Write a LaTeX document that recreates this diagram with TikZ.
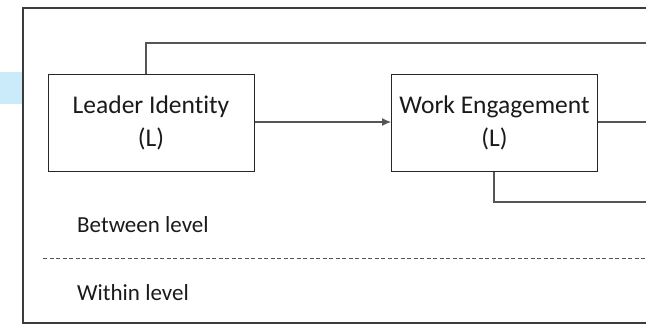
\documentclass[tikz,border=0pt]{standalone}
\usepackage{fontspec}
\setmainfont{Carlito}[Ligatures=NoCommon]
\usetikzlibrary{arrows.meta}
\definecolor{framegray}{HTML}{3C3C3C}
\definecolor{linkgray}{HTML}{555555}
\definecolor{boxline}{HTML}{262626}
\definecolor{tabblue}{HTML}{CCEBFA}
\definecolor{inkcol}{HTML}{1A1A1A}
\begin{document}
\begin{tikzpicture}[x=1pt,y=-1pt,
  construct/.style={draw=boxline, line width=1pt, minimum width=206pt, minimum height=97pt,
    inner sep=0pt, align=center, text=inkcol,
    font=\fontsize{25.5}{33}\selectfont},
  levellabel/.style={anchor=base west, inner sep=0pt, text=inkcol,
    font=\fontsize{23}{27}\selectfont},
  link/.style={draw=linkgray, line width=1.1pt},
  frame/.style={draw=framegray, line width=1.3pt},
  divider/.style={draw=linkgray, line width=0.9pt, dash pattern=on 4pt off 2.5pt}]
  \useasboundingbox (0,0) rectangle (646,325);

  % side tab
  \fill[tabblue] (0,72) rectangle (23,104);

  % outer frame, open to the right
  \draw[frame] (646,8) -- (23,8) -- (23,323) -- (646,323);

  % constructs
  \node[construct] (leader) at (151,122.5) {Leader Identity\\(L)};
  \node[construct] (engage) at (494.5,122.5) {Work Engagement\\(L)};

  % free ends at the right edge
  \coordinate (topend) at (646,43);
  \coordinate (midend) at (646,122);
  \coordinate (lowend) at (646,202);
  \coordinate (ltop) at (146,0);
  \coordinate (ebot) at (494,0);

  % connectors
  \draw[link, -{Latex[length=9pt,width=8pt]}] (leader.east |- 0,122) -- (engage.west |- 0,122);
  \draw[link] (leader.north -| ltop) |- (topend);
  \draw[link] (engage.east |- midend) -- (midend);
  \draw[link] (engage.south -| ebot) |- (lowend);

  % level separation
  \coordinate (dashstart) at (43,258);
  \coordinate (dashend) at (646,258);
  \draw[divider] (dashstart) -- (dashend);
  \node[levellabel] (between) at (77,232) {Between level};
  \node[levellabel] (within) at (77,300) {Within level};
\end{tikzpicture}
\end{document}
